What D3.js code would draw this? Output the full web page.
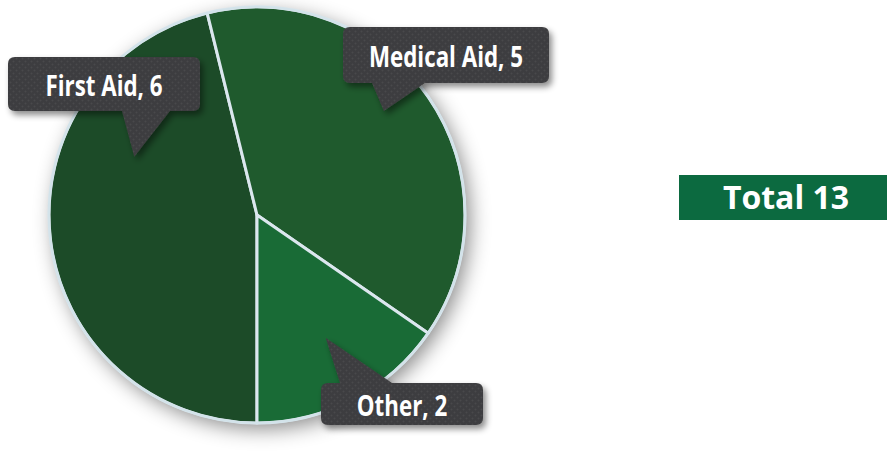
<!DOCTYPE html>
<html>
<head>
<meta charset="utf-8">
<script src="https://cdn.jsdelivr.net/npm/d3@7"></script>
<style>
  html, body { margin: 0; padding: 0; background: #fff; overflow: hidden; }
  .lbl { font-family: "Open Sans", sans-serif; font-weight: bold; }
</style>
</head>
<body>
<svg id="chart" width="887" height="459"></svg>
<script>
const categories = ["First Aid", "Medical Aid", "Other"]
const counts = [6, 5, 2]
const sliceColors = ["#1c4b28", "#1f5a2d", "#196b36"]
const totalLabel = "Total " + d3.sum(counts)

const width = 887, height = 459
const cx = 257, cy = 215, radius = 208

// callout layout: tip as fraction of radius from center, box centre + size
const callouts = [
  {tip: [-0.59, -0.28], box: [104, 84], w: 192, h: 54, base: [122, 170], ty: 96},
  {tip: [0.61, -0.50], box: [446, 55], w: 206, h: 56, base: [372, 425], ty: 67},
  {tip: [0.33, 0.59], box: [402, 404], w: 162, h: 42, base: [340, 392], ty: 416}
]

const svg = d3.select("#chart")
const defs = svg.append("defs")

defs.append("filter").attr("id", "pieShadow")
    .attr("x", "-20%").attr("y", "-20%").attr("width", "140%").attr("height", "140%")
  .append("feDropShadow")
    .attr("dx", 5).attr("dy", 6).attr("stdDeviation", 10)
    .attr("flood-color", "#000").attr("flood-opacity", 0.45)

defs.append("filter").attr("id", "boxShadow")
    .attr("x", "-20%").attr("y", "-30%").attr("width", "140%").attr("height", "170%")
  .append("feDropShadow")
    .attr("dx", 3).attr("dy", 4).attr("stdDeviation", 3)
    .attr("flood-color", "#000").attr("flood-opacity", 0.45)

let pat = defs.append("pattern").attr("id", "dots")
    .attr("width", 6).attr("height", 6).attr("patternUnits", "userSpaceOnUse")
pat.append("rect").attr("width", 6).attr("height", 6).attr("fill", "#3d3d3f")
pat.append("circle").attr("cx", 1.5).attr("cy", 1.5).attr("r", 1).attr("fill", "#4a4a4c")
pat.append("circle").attr("cx", 4.5).attr("cy", 4.5).attr("r", 1).attr("fill", "#4a4a4c")

const pie = d3.pie().sort(null).value(d => d)
    .startAngle(Math.PI).endAngle(3 * Math.PI)
const arcs = pie(counts)
const arc = d3.arc().innerRadius(0).outerRadius(radius)

const g = svg.append("g").attr("transform", "translate(" + cx + "," + cy + ")")

g.append("circle").attr("r", radius).attr("fill", "#1e5229")
  .attr("filter", "url(#pieShadow)")

g.selectAll("path.slice")
  .data(arcs)
  .enter().append("path")
    .attr("class", "slice")
    .attr("d", arc)
    .attr("fill", (d, i) => sliceColors[i])
    .attr("stroke", "#dbe7ee")
    .attr("stroke-width", 3)
    .attr("stroke-linejoin", "round")

g.append("circle").attr("r", radius).attr("fill", "none")
  .attr("stroke", "#d3e3ea").attr("stroke-width", 2.5)

// callouts
categories.forEach(function(cat, i) {
  const c = callouts[i]
  const tx = cx + c.tip[0] * radius, ty = cy + c.tip[1] * radius
  const x0 = c.box[0] - c.w / 2, y0 = c.box[1] - c.h / 2
  const r = 7
  const below = ty > c.box[1]
  const edgeY = below ? y0 + c.h : y0
  const p = d3.path()
  p.moveTo(x0 + r, y0)
  if (!below) { p.lineTo(c.base[0], y0); p.lineTo(tx, ty); p.lineTo(c.base[1], y0) }
  p.lineTo(x0 + c.w - r, y0)
  p.quadraticCurveTo(x0 + c.w, y0, x0 + c.w, y0 + r)
  p.lineTo(x0 + c.w, y0 + c.h - r)
  p.quadraticCurveTo(x0 + c.w, y0 + c.h, x0 + c.w - r, y0 + c.h)
  if (below) { p.lineTo(c.base[1], edgeY); p.lineTo(tx, ty); p.lineTo(c.base[0], edgeY) }
  p.lineTo(x0 + r, y0 + c.h)
  p.quadraticCurveTo(x0, y0 + c.h, x0, y0 + c.h - r)
  p.lineTo(x0, y0 + r)
  p.quadraticCurveTo(x0, y0, x0 + r, y0)
  p.closePath()
  svg.append("path").attr("d", p.toString())
    .attr("fill", "url(#dots)")
    .attr("filter", "url(#boxShadow)")
  svg.append("text").attr("class", "lbl")
    .attr("transform", "translate(" + c.box[0] + "," + c.ty + ") scale(0.77,1)")
    .attr("text-anchor", "middle")
    .attr("fill", "#fff")
    .style("font-size", "29px")
    .text(cat + ", " + counts[i])
})

// total box
svg.append("rect").attr("x", 679).attr("y", 175).attr("width", 208).attr("height", 45)
  .attr("fill", "#0c6a40")
svg.append("text")
  .attr("x", 786).attr("y", 209)
  .attr("text-anchor", "middle")
  .attr("fill", "#fff")
  .style("font-family", "'Open Sans', sans-serif")
  .style("font-weight", "bold")
  .style("font-size", "32px")
  .text(totalLabel)
</script>
</body>
</html>
